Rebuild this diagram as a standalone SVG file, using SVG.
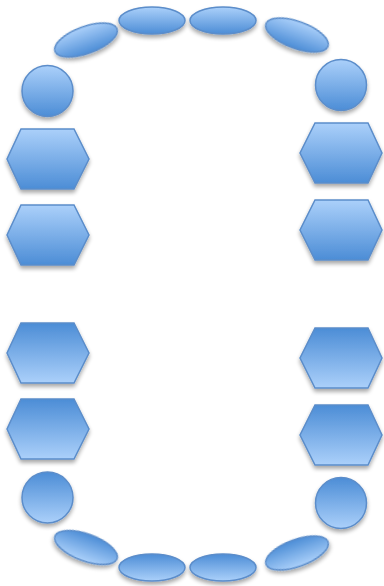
<svg xmlns="http://www.w3.org/2000/svg" width="384" height="586" viewBox="0 0 384 586">
<defs>
<linearGradient id="gDown" x1="0" y1="0" x2="0" y2="1">
<stop offset="0" stop-color="#abd0fa"/>
<stop offset="1" stop-color="#4c8dd6"/>
</linearGradient>
<linearGradient id="gUp" x1="0" y1="0" x2="0" y2="1">
<stop offset="0" stop-color="#4c8dd6"/>
<stop offset="1" stop-color="#abd0fa"/>
</linearGradient>
<filter id="sh" x="-30%" y="-30%" width="160%" height="170%">
<feGaussianBlur in="SourceAlpha" stdDeviation="2"/>
<feOffset dx="0" dy="3" result="b"/>
<feComponentTransfer><feFuncA type="linear" slope="0.35"/></feComponentTransfer>
<feMerge><feMergeNode/><feMergeNode in="SourceGraphic"/></feMerge>
</filter>
</defs>
<style>
.t{fill:url(#gDown);stroke:#5b8dca;stroke-width:1.5;filter:url(#sh)}
.b{fill:url(#gUp);stroke:#5b8dca;stroke-width:1.5;filter:url(#sh)}
</style>
<g id="e-top-left-tilt"><ellipse class="t" cx="86" cy="40" rx="33" ry="13.5" transform="rotate(-20 86 40)"/></g>
<g id="e-top-1"><ellipse class="t" cx="152" cy="20.5" rx="33" ry="13.5"/></g>
<g id="e-top-2"><ellipse class="t" cx="223" cy="20.5" rx="33" ry="13.5"/></g>
<g id="e-top-right-tilt"><ellipse class="t" cx="297" cy="35" rx="33" ry="13.5" transform="rotate(20 297 35)"/></g>
<g id="c-top-left"><circle class="t" cx="47.5" cy="91" r="25.5"/></g>
<g id="c-top-right"><circle class="t" cx="341" cy="85" r="25.5"/></g>
<g id="h-l1"><polygon class="t" points="21,129 74,129 89,159 74,189 21,189 7,159"/></g>
<g id="h-l2"><polygon class="t" points="21,205 74,205 89,235 74,265 21,265 7,235"/></g>
<g id="h-r1"><polygon class="t" points="315,123 368,123 382,153 368,183 315,183 300,153"/></g>
<g id="h-r2"><polygon class="t" points="315,200 368,200 382,230 368,260 315,260 300,230"/></g>
<g id="h-l3"><polygon class="b" points="21,323 74,323 89,353 74,383 21,383 7,353"/></g>
<g id="h-l4"><polygon class="b" points="21,399 74,399 89,429 74,459 21,459 7,429"/></g>
<g id="h-r3"><polygon class="b" points="315,328 368,328 382,358 368,388 315,388 300,358"/></g>
<g id="h-r4"><polygon class="b" points="315,405 368,405 382,435 368,465 315,465 300,435"/></g>
<g id="c-bottom-left"><circle class="b" cx="47.5" cy="497.5" r="25.5"/></g>
<g id="c-bottom-right"><circle class="b" cx="341" cy="503" r="25.5"/></g>
<g id="e-bottom-left-tilt"><ellipse class="b" cx="86" cy="547.5" rx="33" ry="13.5" transform="rotate(20 86 547.5)"/></g>
<g id="e-bottom-1"><ellipse class="b" cx="152" cy="567.5" rx="33" ry="13.5"/></g>
<g id="e-bottom-2"><ellipse class="b" cx="223" cy="567.5" rx="33" ry="13.5"/></g>
<g id="e-bottom-right-tilt"><ellipse class="b" cx="297" cy="553" rx="33" ry="13.5" transform="rotate(-20 297 553)"/></g>
<g id="connectors"/>
</svg>
